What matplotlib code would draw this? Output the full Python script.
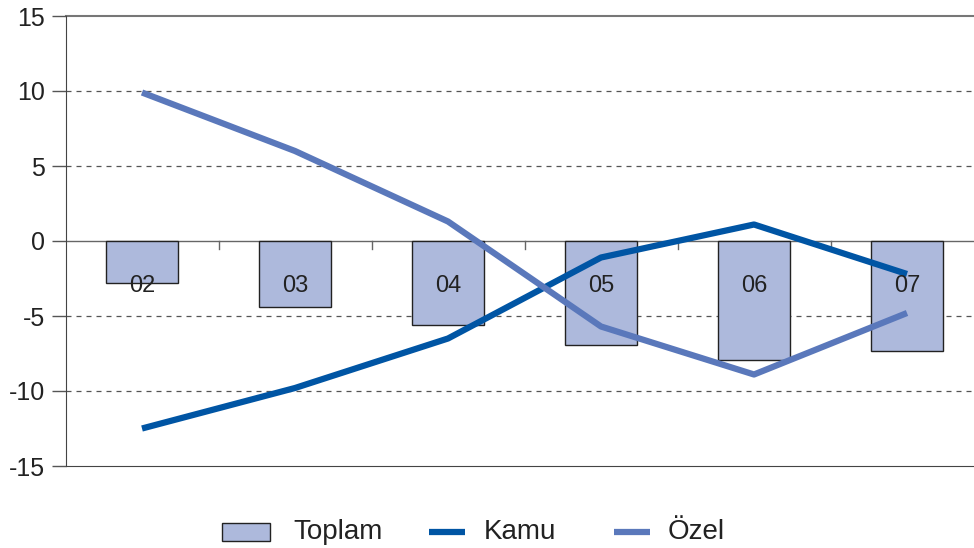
import matplotlib.pyplot as plt
import numpy as np
from matplotlib.patches import Rectangle
from matplotlib.lines import Line2D

years = ['02', '03', '04', '05', '06', '07']
toplam = [-2.8, -4.4, -5.6, -6.9, -7.9, -7.3]
kamu = [-12.5, -9.8, -6.5, -1.1, 1.1, -2.2]
ozel = [9.9, 6.0, 1.3, -5.7, -8.9, -4.8]

bar_color = '#adb9dc'
kamu_color = '#0055a4'
ozel_color = '#5a78bb'

plt.rcParams['font.family'] = ['Liberation Sans', 'DejaVu Sans']

W, H = 974, 548
fig = plt.figure(figsize=(W / 100, H / 100), dpi=100)
ax = fig.add_axes([65.5 / W, 82 / H, 918 / W, 450 / H])

x = np.arange(len(years))
ax.bar(x, toplam, width=0.47, color=bar_color, edgecolor='#222222', linewidth=1.0, zorder=2)
ax.plot(x, kamu, color=kamu_color, linewidth=4.5, zorder=3, solid_capstyle='butt')
ax.plot(x, ozel, color=ozel_color, linewidth=4.5, zorder=3, solid_capstyle='butt')

for xi, lab in zip(x, years):
    ax.text(xi, -3.0, lab, ha='center', va='center', fontsize=17, color='#222222', zorder=4)

ax.set_xlim(-0.5, 5.5)
ax.set_ylim(-15, 15)
ax.set_yticks([-15, -10, -5, 0, 5, 10, 15])
ax.set_yticklabels(['-15', '-10', '-5', '0', '5', '10', '15'], fontsize=18, color='#222222')
ax.tick_params(axis='y', length=10, width=1, color='#555555', pad=5)
ax.set_xticks([])

for yv in [-10, -5, 5, 10]:
    ax.axhline(yv, color='#555555', linestyle=(0, (4, 4)), linewidth=0.9, zorder=1)
ax.axhline(15, color='#777777', linewidth=1.5, zorder=1, clip_on=False)
ax.axhline(0, color='#666666', linewidth=1.0, zorder=1)
for b in np.arange(0.5, 5.5, 1.0):
    ax.plot([b, b], [0, -0.5], color='#666666', linewidth=1.0, zorder=1)

ax.spines['top'].set_visible(False)
ax.spines['right'].set_visible(False)
ax.spines['left'].set_color('#444444')
ax.spines['bottom'].set_color('#444444')

# legend drawn in figure pixels
ly = 1 - 532 / H
fig.patches.append(Rectangle((222 / W, 1 - 541 / H), 48 / W, 18 / H, transform=fig.transFigure,
                             facecolor=bar_color, edgecolor='#222222', linewidth=1.0))
fig.text(293 / W, ly, 'Toplam', ha='left', va='center', fontsize=20, color='#222222')
fig.lines.append(Line2D([429 / W, 465 / W], [ly, ly], transform=fig.transFigure,
                        color=kamu_color, linewidth=4.5, solid_capstyle='butt'))
fig.text(484 / W, ly, 'Kamu', ha='left', va='center', fontsize=20, color='#222222')
fig.lines.append(Line2D([614 / W, 650 / W], [ly, ly], transform=fig.transFigure,
                        color=ozel_color, linewidth=4.5, solid_capstyle='butt'))
fig.text(668 / W, ly, 'Özel', ha='left', va='center', fontsize=20, color='#222222')

fig.savefig('out.png', dpi=100)
